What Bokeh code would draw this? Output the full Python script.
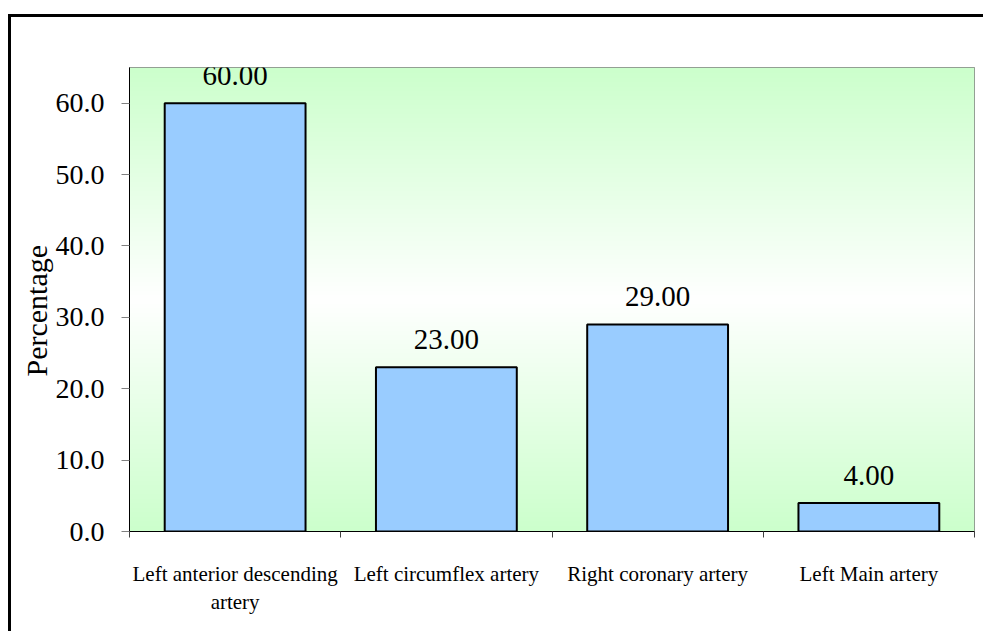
import numpy as np
from bokeh.plotting import figure
from bokeh.models import (ColumnDataSource, Range1d, FixedTicker, LabelSet, Title,
                          NumeralTickFormatter)
from bokeh.embed import file_html
from bokeh.resources import INLINE

# Share of diseased coronary vessels
categories = ["Left anterior descending\nartery", "Left circumflex artery",
              "Right coronary artery", "Left Main artery"]
percentages = [60.0, 23.0, 29.0, 4.0]
value_labels = ["60.00", "23.00", "29.00", "4.00"]
y_ticks = [0, 10, 20, 30, 40, 50, 60]

SERIF = "Liberation Serif"

centers = [i + 0.5 for i in range(len(categories))]
bounds = list(range(len(categories) + 1))

src = ColumnDataSource(dict(x=centers, top=percentages, label=value_labels))

p = figure(width=975, height=617, output_backend="svg", toolbar_location=None,
           x_range=Range1d(0, len(categories)), y_range=Range1d(0, 65),
           min_border_left=118, min_border_right=12,
           min_border_top=50, min_border_bottom=103)
# chart-area frame: only its top and left edges fall inside the page
p.styles = {"margin-left": "8px", "margin-top": "14px",
            "border-left": "3px solid black", "border-top": "3px solid black"}

p.background_fill_color = "white"
p.border_fill_color = "white"
p.outline_line_color = "#808080"
p.outline_line_width = 1
p.grid.visible = False

# plot-area fill: light green at top and bottom, white through the middle
n = 464
t = np.linspace(0, 1, n)
w = np.abs(t - 0.5) * 2
r = (255 - (255 - 204) * w).astype(np.uint32)
g = np.full(n, 255, dtype=np.uint32)
b = (255 - (255 - 204) * w).astype(np.uint32)
rgba = (255 << 24) | (b << 16) | (g << 8) | r
img = rgba.reshape(n, 1).astype(np.uint32)
p.image_rgba(image=[img], x=0, y=0, dw=len(categories), dh=65)

p.vbar(x="x", top="top", width=2 / 3, source=src, fill_color="#99ccff",
       line_color="black", line_width=2)

labels = LabelSet(x="x", y="top", text="label", source=src, text_align="center",
                  text_baseline="alphabetic", y_offset=18,
                  text_font=SERIF, text_font_size="29px", text_color="black")
p.add_layout(labels)

# y axis
yax = p.yaxis[0]
yax.ticker = FixedTicker(ticks=y_ticks, minor_ticks=[])
yax.formatter = NumeralTickFormatter(format="0.0")
yax.axis_line_color = "black"
yax.major_tick_line_color = "#808080"
yax.major_tick_out = 8
yax.major_tick_in = 0
yax.minor_tick_line_color = None
yax.major_label_standoff = 17
yax.major_label_text_font = SERIF
yax.major_label_text_font_size = "28px"
yax.major_label_text_color = "black"

# y title as a side title, started a fixed distance above the plot-area bottom
ytitle = Title(text="Percentage", align="left", offset=155, standoff=0,
               text_font=SERIF, text_font_size="30px", text_font_style="normal",
               text_color="black")
p.add_layout(ytitle, "left")

# x axis: names at bar centres, tick marks on category boundaries
xax = p.xaxis[0]
xax.ticker = FixedTicker(ticks=centers, minor_ticks=bounds)
xax.major_label_overrides = {c: lab for c, lab in zip(centers, categories)}
xax.axis_line_color = "black"
xax.major_tick_line_color = None
xax.major_tick_out = 0
xax.major_tick_in = 0
xax.minor_tick_line_color = "#404040"
xax.minor_tick_out = 6
xax.minor_tick_in = 0
xax.major_label_standoff = 24
xax.major_label_text_font = SERIF
xax.major_label_text_font_size = "21px"
xax.major_label_text_color = "black"

open("out.html", "w").write(file_html(p, INLINE))
